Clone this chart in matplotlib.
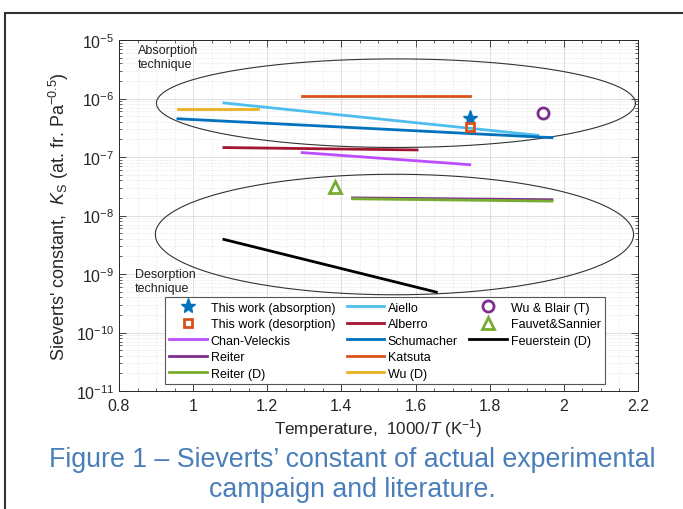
import numpy as np
import matplotlib
matplotlib.use('Agg')
import matplotlib.pyplot as plt
from matplotlib.lines import Line2D
from matplotlib.patches import Rectangle
from matplotlib.ticker import MultipleLocator, LogLocator, NullFormatter

plt.rcParams['font.family'] = ['Liberation Sans', 'DejaVu Sans']
plt.rcParams['mathtext.fontset'] = 'custom'
plt.rcParams['mathtext.rm'] = 'Liberation Sans'
plt.rcParams['mathtext.it'] = 'Liberation Sans:italic'
plt.rcParams['mathtext.default'] = 'regular'

### literature lines (1000/T, Ks)
aiello_x = [1.083, 1.93]
aiello_y = [8.4e-7, 2.35e-7]
alberro_x = [1.083, 1.604]
alberro_y = [1.45e-7, 1.32e-7]
chan_x = [1.294, 1.746]
chan_y = [1.19e-7, 7.4e-8]
schum_x = [0.959, 1.968]
schum_y = [4.5e-7, 2.14e-7]
reiter_x = [1.43, 1.968]
reiter_y = [2.0e-8, 1.86e-8]
reiterD_x = [1.43, 1.968]
reiterD_y = [1.93e-8, 1.76e-8]
katsuta_x = [1.294, 1.746]
katsuta_y = [1.1e-6, 1.1e-6]
wuD_x = [0.959, 1.175]
wuD_y = [6.5e-7, 6.5e-7]
feuer_x = [1.083, 1.656]
feuer_y = [3.9e-9, 4.9e-10]

### single points
abs_x, abs_y = 1.746, 4.6e-7
des_x, des_y = 1.746, 3.3e-7
wublair_x, wublair_y = 1.944, 5.6e-7
fauvet_x, fauvet_y = 1.382, 3.1e-8

# ellipses: center x, center log10(y), half width, half height (decades)
ell_abs = (1.547, -6.08, 0.646, 0.757)
ell_des = (1.543, -8.325, 0.645, 1.03)

c_blue = '#0072BD'
c_orange = '#D95319'
c_yellow = '#EDB120'
c_purple = '#7E2F8E'
c_green = '#77AC30'
c_lblue = '#4DBEEE'
c_red = '#A2142F'
c_violet = '#BD4DFF'

fig = plt.figure(figsize=(6.83, 5.10), dpi=100)
ax = fig.add_axes([119/683, 1-392/510, 519/683, 351/510])

lw = 2.0
h_abs, = ax.plot(abs_x, abs_y, '*', color=c_blue, ms=11, mew=1, label='This work (absorption)')
h_des, = ax.plot(des_x, des_y, 's', mfc='none', mec=c_orange, ms=6, mew=2, label='This work (desorption)')
h_chan, = ax.plot(chan_x, chan_y, color=c_violet, lw=lw, label='Chan-Veleckis')
h_reit, = ax.plot(reiter_x, reiter_y, color=c_purple, lw=lw, label='Reiter')
h_reitD, = ax.plot(reiterD_x, reiterD_y, color=c_green, lw=lw, label='Reiter (D)')
h_aie, = ax.plot(aiello_x, aiello_y, color=c_lblue, lw=lw, label='Aiello')
h_alb, = ax.plot(alberro_x, alberro_y, color=c_red, lw=lw, label='Alberro')
h_sch, = ax.plot(schum_x, schum_y, color=c_blue, lw=lw, label='Schumacher')
h_kat, = ax.plot(katsuta_x, katsuta_y, color=c_orange, lw=lw, label='Katsuta')
h_wuD, = ax.plot(wuD_x, wuD_y, color=c_yellow, lw=lw, label='Wu (D)')
h_wub, = ax.plot(wublair_x, wublair_y, 'o', mfc='none', mec=c_purple, ms=8, mew=2, label='Wu & Blair (T)')
h_fau, = ax.plot(fauvet_x, fauvet_y, '^', mfc='none', mec=c_green, ms=9, mew=2, label='Fauvet&Sannier')
h_feu, = ax.plot(feuer_x, feuer_y, color='black', lw=lw, label='Feuerstein (D)')
# markers on top of the lines
for h in (h_abs, h_des):
    h.set_zorder(5)

t = np.linspace(0, 2*np.pi, 400)
for cx, cy, a, b in (ell_abs, ell_des):
    ax.plot(cx + a*np.cos(t), 10**(cy + b*np.sin(t)), color='#333333', lw=0.8, zorder=1)

ax.text(0.851, 10**-5.07, 'Absorption\ntechnique', fontsize=9, va='top', ha='left', color='#202020')
ax.text(0.843, 10**-8.9, 'Desorption\ntechnique', fontsize=9, va='top', ha='left', color='#202020')

ax.set_yscale('log')
ax.set_xlim(0.8, 2.2)
ax.set_ylim(1e-11, 1e-5)
ax.xaxis.set_minor_locator(MultipleLocator(0.05))
ax.yaxis.set_major_locator(LogLocator(base=10, numticks=10))
ax.yaxis.set_minor_locator(LogLocator(base=10, subs=np.arange(2, 10), numticks=20))
ax.yaxis.set_minor_formatter(NullFormatter())
ax.set_xticks(np.round(np.arange(0.8, 2.21, 0.2), 1))
ax.set_xticklabels(['0.8', '1', '1.2', '1.4', '1.6', '1.8', '2', '2.2'])

ax.tick_params(which='both', direction='in', top=True, right=True, colors='#262626', labelsize=11.5)
ax.tick_params(which='major', length=5, width=0.6)
ax.tick_params(axis='x', which='major', pad=5)
ax.tick_params(which='minor', length=2.5, width=0.5)
for s in ax.spines.values():
    s.set_color('#262626')
    s.set_linewidth(0.7)
ax.grid(which='major', color='#DADADA', lw=0.6, ls='-')
ax.grid(which='minor', color='#DADADA', lw=0.5, ls=':')
ax.set_axisbelow(True)

ax.set_xlabel(r'Temperature,  $\mathit{1000/T}$ (K$^{-1}$)', fontsize=12.3, color='#262626', labelpad=2)
ax.set_ylabel(r"Sieverts' constant,  $\mathit{K}_S$ (at. fr. Pa$^{-0.5}$)", fontsize=13, color='#262626', labelpad=3)

blank = Line2D([], [], color='none')
handles = [h_abs, h_des, h_chan, h_reit, h_reitD,
           h_aie, h_alb, h_sch, h_kat, h_wuD,
           h_wub, h_fau, h_feu, blank, blank]
labels = [h.get_label() if h is not blank else '' for h in handles]
leg = ax.legend(handles, labels, ncol=3, loc='lower left', mode='expand',
                bbox_to_anchor=(46/519, 7/351, 440/519, 0.25), borderaxespad=0,
                fontsize=9, handlelength=3.0, handletextpad=0.3, labelspacing=0.36,
                columnspacing=0.4, borderpad=0.35, fancybox=False, framealpha=1,
                edgecolor='#555555')
leg.get_frame().set_linewidth(0.8)

fig.text(352/683, 1-460/510, 'Figure 1 \u2013 Sieverts\u2019 constant of actual experimental',
         fontsize=19.3, color='#4A7EBB', ha='center', va='center')
fig.text(352/683, 1-490/510, 'campaign and literature.',
         fontsize=19.3, color='#4A7EBB', ha='center', va='center')

fig.patches.append(Rectangle((5/683, -0.1), 1.2, 1-14/510+0.1, transform=fig.transFigure,
                             fill=False, edgecolor='#333333', lw=1.5))

fig.savefig('out.png', dpi=100)
